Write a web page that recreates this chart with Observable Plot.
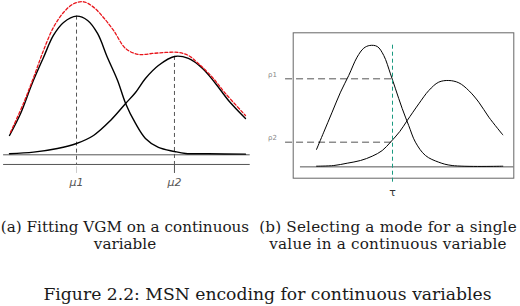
<!DOCTYPE html>
<html><head><meta charset="utf-8">
<script src="https://cdn.jsdelivr.net/npm/d3@7"></script>
<script src="https://cdn.jsdelivr.net/npm/@observablehq/plot@0.6"></script>
<style>
body{margin:0;background:#fff;}
#fig{position:relative;width:520px;height:306px;overflow:hidden;background:#fff;font-family:"DejaVu Serif",serif;color:#1a1a1a;}
#a,#b{position:absolute;top:0;}
#a{left:0}#b{left:260px}
.cap{position:absolute;text-align:center;white-space:nowrap;}
</style></head><body>
<div id="fig">
<div id="a"></div><div id="b"></div>
<div class="cap" id="capA" style="left:0;width:250px;top:219px;font-size:15.2px;line-height:17px"></div>
<div class="cap" id="capB" style="left:258px;width:260px;top:219px;font-size:15.2px;line-height:17px;letter-spacing:0.2px"></div>
<div class="cap" id="capFig" style="left:0;width:535px;top:283px;font-size:17.2px;line-height:22px"></div>
</div>
<script>
// ---- Panel (a): VGM fit ----
const aComp1X = [0,0.47,0.96,1.44,1.86,2.29,2.84,3.31,3.73,4.15,4.58,4.92,5.34,5.76,6.31,6.99,7.46,8.43,10];
const aComp1Y = [0.058,0.124,0.214,0.292,0.358,0.397,0.416,0.403,0.364,0.292,0.223,0.154,0.094,0.049,0.022,0.010,0.004,0.003,0.002];
const aComp2X = [0,1.02,2.03,2.84,3.56,4.28,4.92,5.34,5.76,6.31,6.99,7.58,8.18,8.73,9.28,10];
const aComp2Y = [0.003,0.008,0.019,0.034,0.058,0.103,0.154,0.187,0.229,0.268,0.295,0.289,0.259,0.214,0.163,0.109];
const aSumX = [0.04,0.59,1.02,1.44,1.86,2.29,2.71,3.14,3.56,3.98,4.41,4.92,5.47,6.06,6.61,7.16,7.58,8.0,8.6,9.15,10];
const aSumY = [0.067,0.154,0.232,0.313,0.382,0.427,0.453,0.459,0.443,0.412,0.373,0.319,0.301,0.304,0.307,0.307,0.298,0.274,0.232,0.184,0.118];
const muValues = [2.84, 6.99];
const muPeaks = [0.416, 0.295];
const muLabels = ["μ1", "μ2"];
const aBaselines = [0, -0.029];

// ---- Panel (b): mode selection ----
const bComp1X = [0,0.39,0.84,1.29,1.73,2.18,2.54,2.86,3.26,3.61,3.97,4.24,4.6,4.95,5.31,5.85,6.56,7.28,10];
const bComp1Y = [0.052,0.104,0.164,0.224,0.274,0.329,0.356,0.364,0.361,0.334,0.279,0.234,0.175,0.124,0.074,0.034,0.014,0.004,0.002];
const bComp2X = [0,0.93,1.65,2.36,2.99,3.53,3.97,4.47,4.87,5.49,6.03,6.56,7.1,7.64,8.17,8.71,9.25,10];
const bComp2Y = [0.002,0.004,0.011,0.019,0.032,0.049,0.074,0.106,0.139,0.189,0.229,0.254,0.259,0.252,0.229,0.194,0.149,0.096];
const tauValue = 4.08;
const tauLabel = "τ";
const rhoValues = [0.264, 0.074];
const rhoLabels = ["ρ1", "ρ2"];

// ---- Captions ----
const captionA = ["(a) Fitting VGM on a continuous", "variable"];
const captionB = ["(b) Selecting a mode for a single", "value in a continuous variable"];
const figureCaption = "Figure 2.2: MSN encoding for continuous variables";

const pts = (xs, ys) => xs.map((x, i) => ({x, y: ys[i]}));

const plotA = Plot.plot({
  width: 260, height: 200,
  marginLeft: 9, marginRight: 15, marginTop: 4.3, marginBottom: 45.7,
  x: {domain: [0, 10], axis: null},
  y: {domain: [0, 0.45], axis: null},
  marks: [
    Plot.ruleY(aBaselines, {x1: -0.25, x2: 10.2, stroke: "#555", strokeWidth: 1}),
    Plot.ruleX(muValues.map((m, i) => ({x: m, y1: muPeaks[i], y2: -0.029})),
      {x: "x", y1: "y1", y2: "y2", stroke: "#555", strokeDasharray: "4,3", strokeWidth: 1}),
    Plot.ruleX([muValues[0]], {y1: -0.036, y2: -0.056, stroke: "#ccc", strokeWidth: 1}),
    Plot.ruleX([muValues[1]], {y1: -0.029, y2: -0.056, stroke: "#555", strokeWidth: 1}),
    Plot.line(pts(aComp1X, aComp1Y), {x: "x", y: "y", curve: "catmull-rom", stroke: "#000", strokeWidth: 1.4}),
    Plot.line(pts(aComp2X, aComp2Y), {x: "x", y: "y", curve: "catmull-rom", stroke: "#000", strokeWidth: 1.4}),
    Plot.line(pts(aSumX, aSumY), {x: "x", y: "y", curve: "catmull-rom", stroke: "#e8141a", strokeWidth: 1.3, strokeDasharray: "3,2"}),
    Plot.text(muLabels, {x: muValues, y: -0.082, text: d => d, fontStyle: "italic", fontSize: 11, fill: "#555", fontFamily: "DejaVu Sans"})
  ]
});
document.getElementById("a").appendChild(plotA);

const plotB = Plot.plot({
  width: 260, height: 200,
  marginLeft: 32.7, marginRight: 6.7, marginTop: 32.3, marginBottom: 22.3,
  x: {domain: [-1.25, 10.59], axis: null},
  y: {domain: [-0.034, 0.402], axis: null},
  marks: [
    Plot.frame({stroke: "#666", strokeWidth: 1}),
    Plot.ruleY([0], {x1: -0.86, x2: 10.59, stroke: "#555", strokeWidth: 1}),
    Plot.ruleY(rhoValues, {x1: -1.66, x2: tauValue, stroke: "#555", strokeDasharray: "7,4", strokeWidth: 1}),
    Plot.line(pts(bComp1X, bComp1Y), {x: "x", y: "y", curve: "catmull-rom", stroke: "#000", strokeWidth: 1}),
    Plot.line(pts(bComp2X, bComp2Y), {x: "x", y: "y", curve: "catmull-rom", stroke: "#000", strokeWidth: 1}),
    Plot.ruleX([tauValue], {y1: -0.046, y2: 0.367, stroke: "#1a9a80", strokeDasharray: "4,3", strokeWidth: 1}),
    Plot.text([tauLabel], {x: tauValue, y: -0.076, text: d => d, fontSize: 11, fill: "#333", fontFamily: "DejaVu Sans"}),
    Plot.text(rhoLabels, {x: -2.36, y: rhoValues.map(v => v + 0.012), text: d => d, fontSize: 7, fill: "#888", fontFamily: "DejaVu Sans"})
  ]
});
document.getElementById("b").appendChild(plotB);

document.getElementById("capA").innerHTML = captionA.join("<br>");
document.getElementById("capB").innerHTML = captionB.join("<br>");
document.getElementById("capFig").textContent = figureCaption;
</script>
</body></html>
